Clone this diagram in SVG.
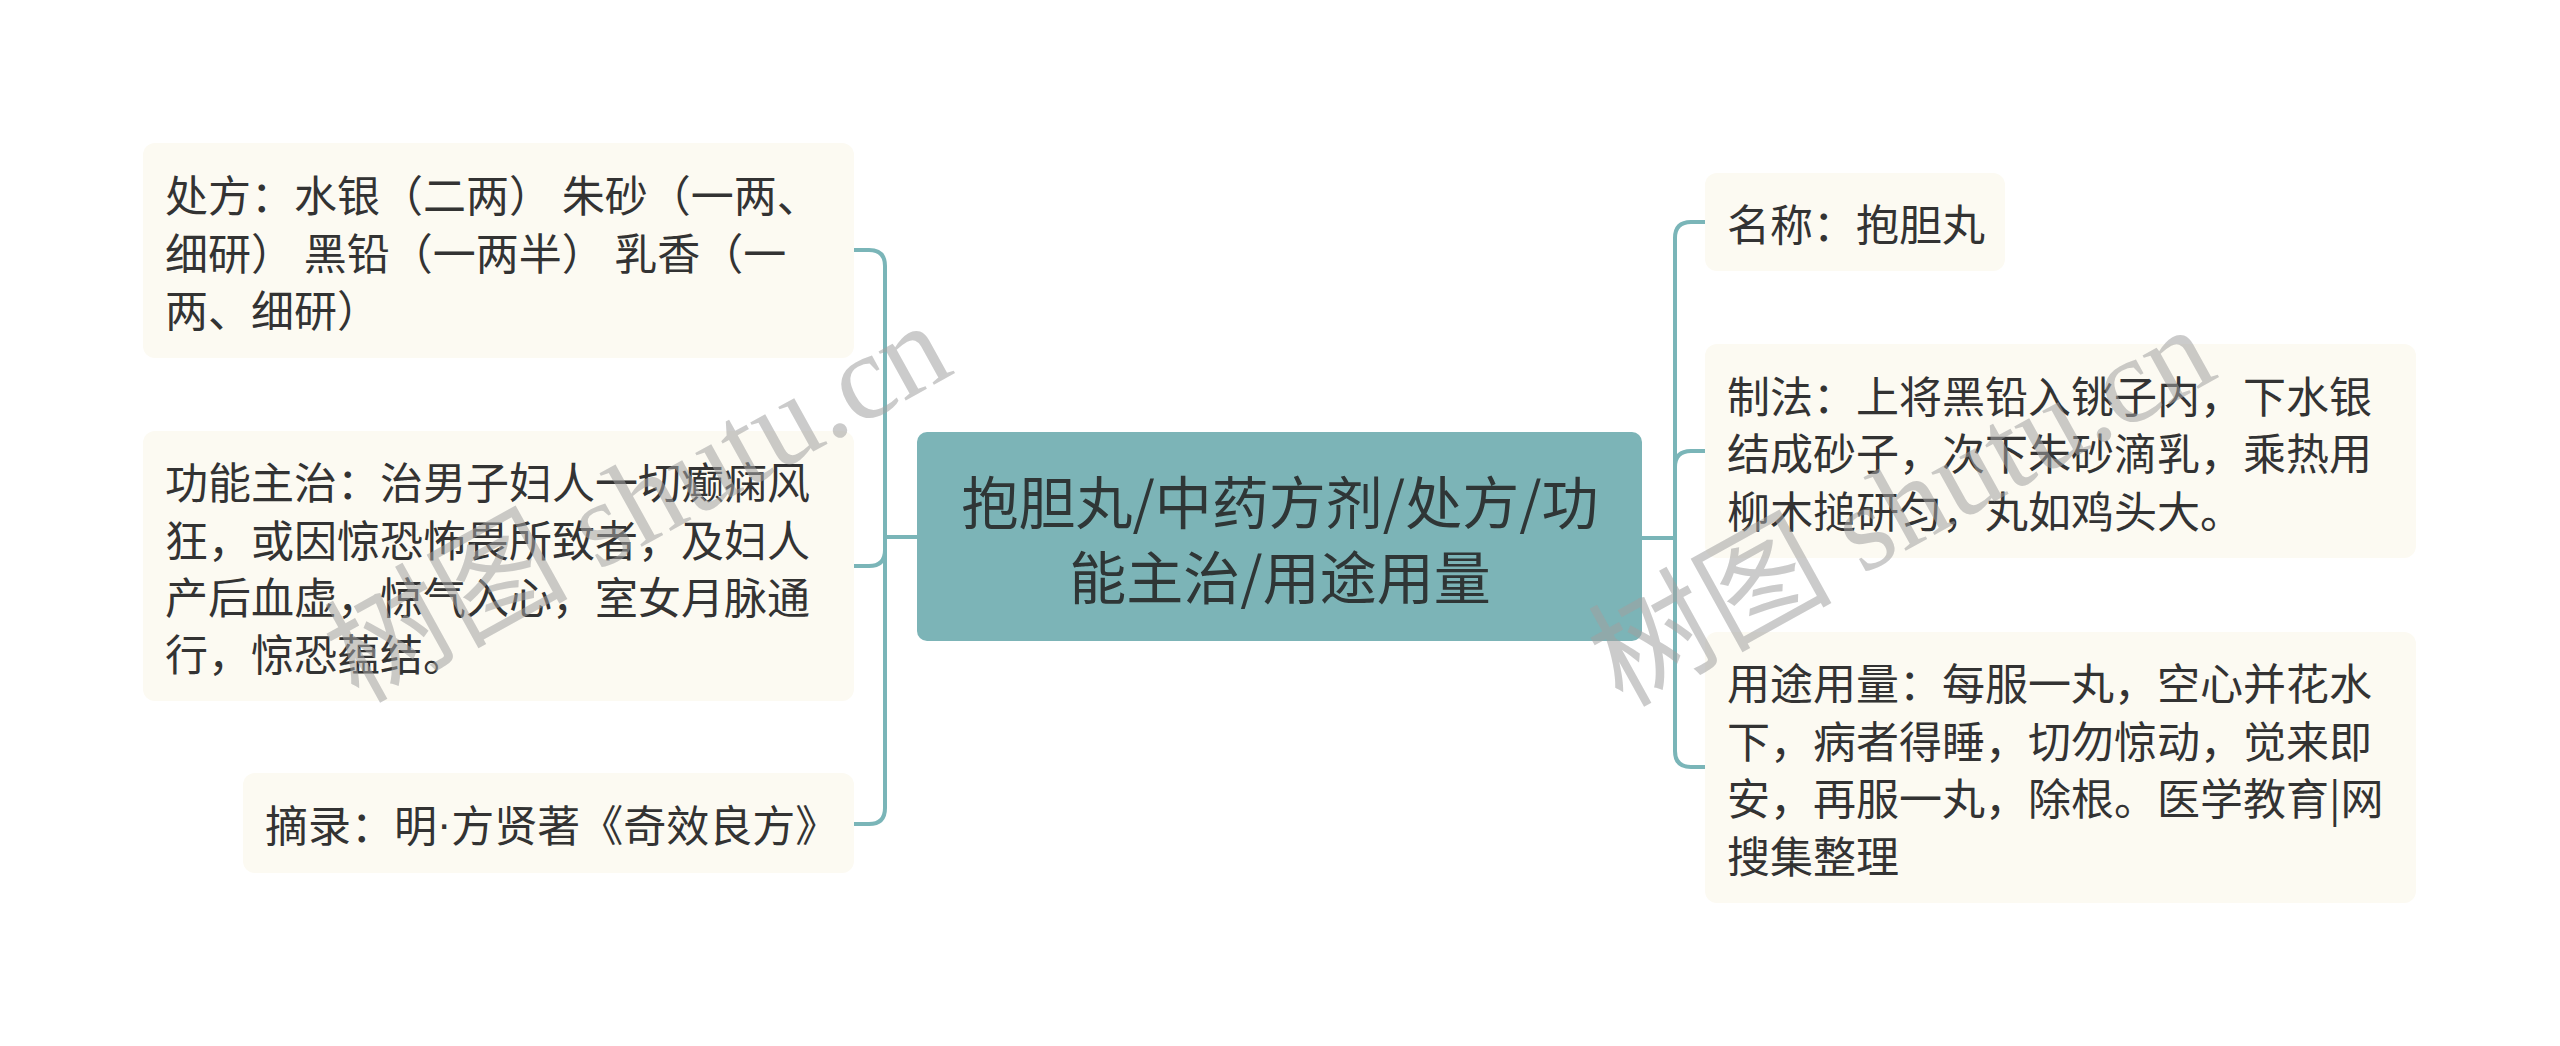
<svg xmlns="http://www.w3.org/2000/svg" width="2560" height="1046" viewBox="0 0 2560 1046">
<defs>
<style>
.node rect{fill:#fcfaf2;}
.node text{font-family:"Noto Sans CJK SC","Noto Sans",sans-serif;font-size:43px;fill:#333333;dominant-baseline:central;}
.dot{font-family:"Liberation Sans",sans-serif;}
.center rect{fill:#7cb4b7;}
.center text{font-family:"Noto Sans CJK SC","Noto Sans",sans-serif;font-size:57px;fill:#2f3636;dominant-baseline:central;text-anchor:middle;}
.conn path{fill:none;stroke:#7ab5b8;stroke-width:4;}
.wm{font-family:"Liberation Serif","Noto Sans CJK SC",serif;font-size:122px;fill:#a0a0a0;fill-opacity:0.55;}
</style>
</defs>
<rect width="2560" height="1046" fill="#ffffff"/>
<g id="connectors" class="conn">
<path d="M917,537 H885"/>
<path d="M854,250 H869 Q885,250 885,266 V808 Q885,824 869,824 H854"/>
<path d="M885,537 V550 Q885,566 869,566 H854"/>
<path d="M1642,538 H1675"/>
<path d="M1705,222 H1691 Q1675,222 1675,238 V751 Q1675,767 1691,767 H1705"/>
<path d="M1675,538 V467 Q1675,451 1691,451 H1705"/>
</g>
<g id="center" class="center">
<rect x="917" y="432" width="725" height="209" rx="10"/>
<text x="1280" y="499">抱胆丸/中药方剂/处方/功</text>
<text x="1280" y="574">能主治/用途用量</text>
</g>
<g id="node-chufang" class="node">
<rect x="143" y="143" width="711" height="215" rx="12"/>
<text x="165" y="193">处方：水银（二两） 朱砂（一两、</text>
<text x="165" y="250.5">细研） 黑铅（一两半） 乳香（一</text>
<text x="165" y="308">两、细研）</text>
</g>
<g id="node-gongneng" class="node">
<rect x="143" y="431" width="711" height="270" rx="12"/>
<text x="165" y="480">功能主治：治男子妇人一切癫痫风</text>
<text x="165" y="537.5">狂，或因惊恐怖畏所致者，及妇人</text>
<text x="165" y="595">产后血虚，惊气入心，室女月脉通</text>
<text x="165" y="652">行，惊恐蕴结。</text>
</g>
<g id="node-zhailu" class="node">
<rect x="243" y="773" width="611" height="100" rx="12"/>
<text x="265" y="823">摘录：明<tspan class="dot">·</tspan>方贤著《奇效良方》</text>
</g>
<g id="node-mingcheng" class="node">
<rect x="1705" y="173" width="300" height="98" rx="12"/>
<text x="1727" y="222">名称：抱胆丸</text>
</g>
<g id="node-zhifa" class="node">
<rect x="1705" y="344" width="711" height="214" rx="12"/>
<text x="1727" y="393.5">制法：上将黑铅入铫子内，下水银</text>
<text x="1727" y="451">结成砂子，次下朱砂滴乳，乘热用</text>
<text x="1727" y="508.5">柳木搥研匀，丸如鸡头大。</text>
</g>
<g id="node-yongtu" class="node">
<rect x="1705" y="632" width="711" height="271" rx="12"/>
<text x="1727" y="681">用途用量：每服一丸，空心并花水</text>
<text x="1727" y="739">下，病者得睡，切勿惊动，觉来即</text>
<text x="1727" y="796">安，再服一丸，除根。医学教育|网</text>
<text x="1727" y="854">搜集整理</text>
</g>
<g id="watermarks">
<text class="wm" transform="translate(358,704) rotate(-29)">树图 shutu.cn</text>
<text class="wm" transform="translate(1622,708) rotate(-29)">树图 shutu.cn</text>
</g>
</svg>
